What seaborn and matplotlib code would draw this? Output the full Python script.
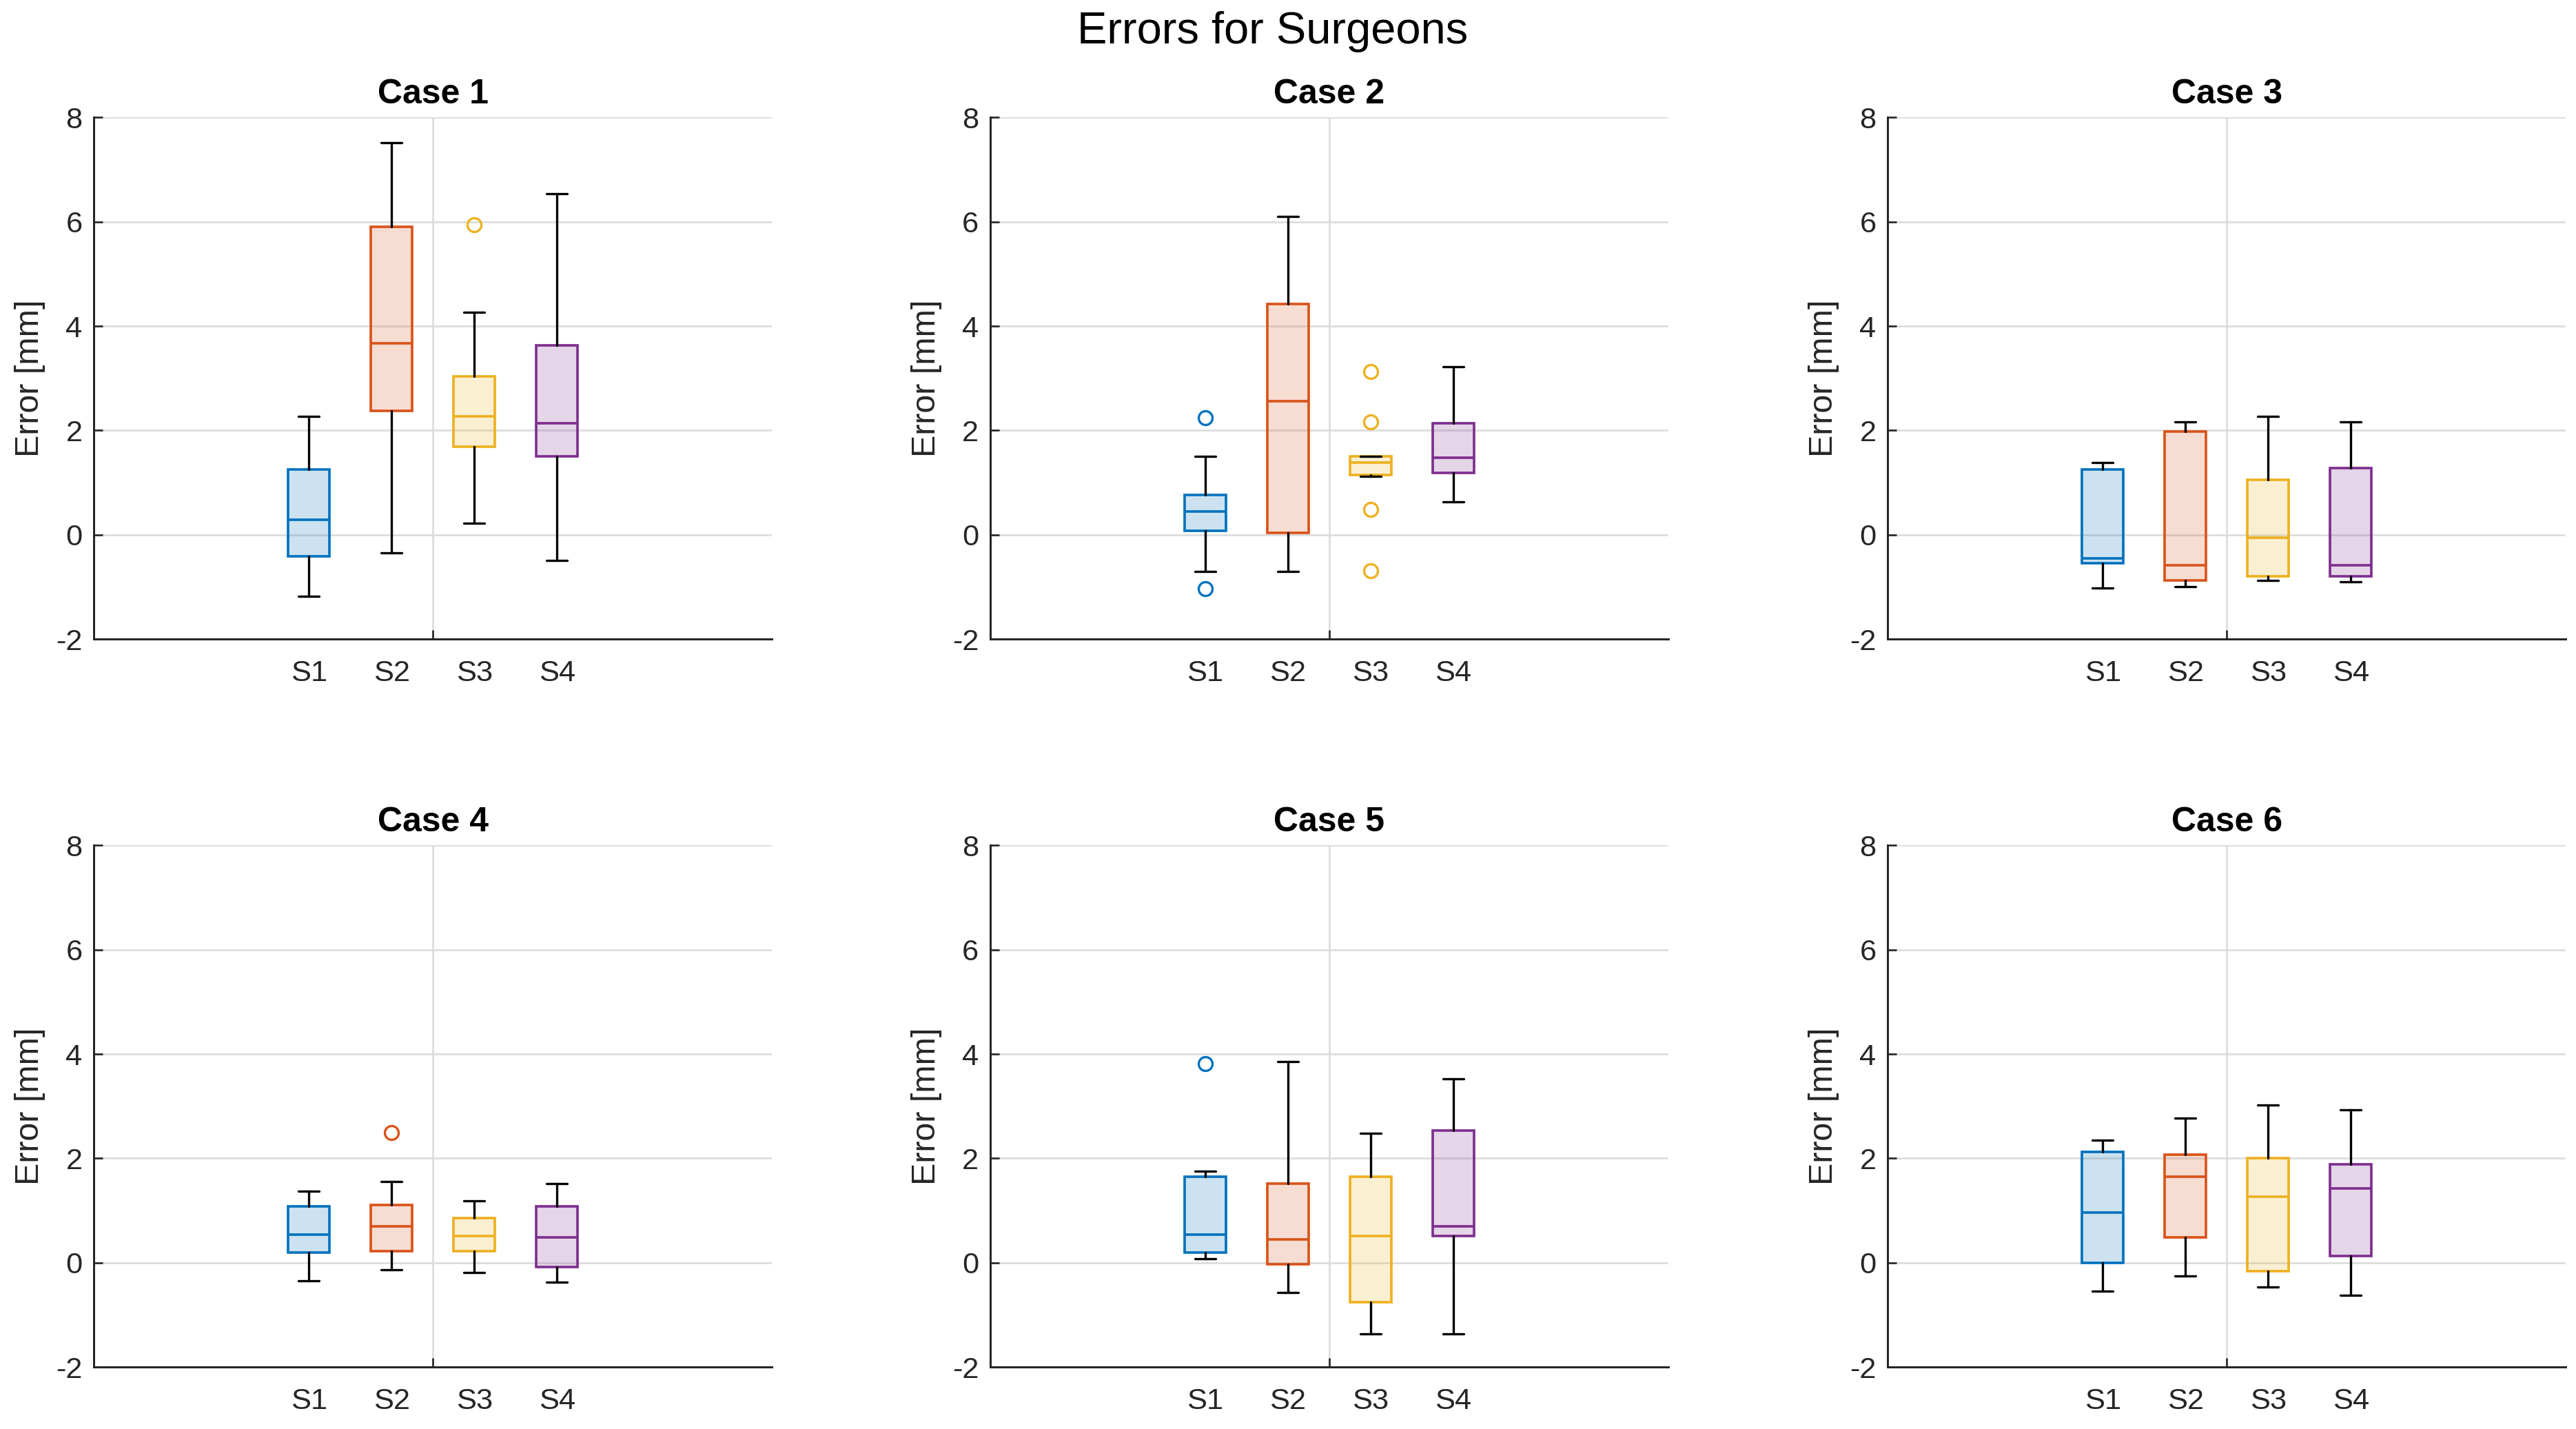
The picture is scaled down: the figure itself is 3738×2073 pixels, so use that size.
import numpy as np
import matplotlib
matplotlib.use("Agg")
import matplotlib.pyplot as plt
from matplotlib.ticker import FixedLocator
import seaborn as sns

# DATA (box statistics, per case -> S1..S4)
cases = ["Case 1", "Case 2", "Case 3", "Case 4", "Case 5", "Case 6"]
surgeons = ["S1", "S2", "S3", "S4"]

whisker_low = [
    [-1.18, -0.35, 0.22, -0.49],
    [-0.70, -0.71, 1.12, 0.63],
    [-1.02, -0.99, -0.87, -0.90],
    [-0.35, -0.13, -0.19, -0.38],
    [0.07, -0.57, -1.36, -1.36],
    [-0.54, -0.25, -0.47, -0.63],
]
q1 = [
    [-0.42, 2.37, 1.69, 1.50],
    [0.07, 0.03, 1.15, 1.18],
    [-0.54, -0.87, -0.80, -0.80],
    [0.20, 0.22, 0.22, -0.08],
    [0.20, -0.03, -0.76, 0.51],
    [0.00, 0.48, -0.16, 0.13],
]
median = [
    [0.29, 3.67, 2.27, 2.14],
    [0.45, 2.56, 1.38, 1.47],
    [-0.45, -0.58, -0.06, -0.58],
    [0.54, 0.70, 0.51, 0.48],
    [0.54, 0.45, 0.51, 0.70],
    [0.96, 1.65, 1.27, 1.43],
]
q3 = [
    [1.25, 5.90, 3.03, 3.63],
    [0.76, 4.43, 1.50, 2.14],
    [1.25, 1.98, 1.05, 1.28],
    [1.08, 1.11, 0.86, 1.08],
    [1.65, 1.52, 1.65, 2.54],
    [2.13, 2.07, 2.00, 1.88],
]
whisker_high = [
    [2.27, 7.51, 4.27, 6.54],
    [1.50, 6.10, 1.50, 3.22],
    [1.38, 2.17, 2.27, 2.17],
    [1.37, 1.55, 1.18, 1.52],
    [1.75, 3.85, 2.48, 3.53],
    [2.35, 2.77, 3.02, 2.93],
]
outliers = [
    [[], [], [5.95], []],
    [[2.24, -1.03], [], [3.13, 2.16, 0.49, -0.69], []],
    [[], [], [], []],
    [[], [2.49], [], []],
    [[3.82], [], [], []],
    [[], [], [], []],
]

colors = ["#0072BD", "#D95319", "#EDB120", "#7E2F8E"]
ink = "#262626"
gridc = "#dcdcdc"

sns.set_theme(style="white")
plt.rcParams["font.family"] = ["Liberation Sans", "DejaVu Sans"]
plt.rcParams["axes.unicode_minus"] = False

fig = plt.figure(figsize=(3738 / 240, 2073 / 240), dpi=240)
fig.patch.set_facecolor("white")

lefts = [0.0364, 0.3844, 0.7328]
bottoms = [0.5528, 0.0434]
width = 0.2633
height = 0.3650

for i, case in enumerate(cases):
    row, col = divmod(i, 3)
    ax = fig.add_axes([lefts[col], bottoms[row], width, height])

    stats = []
    for j, s in enumerate(surgeons):
        stats.append(dict(
            label=s,
            whislo=whisker_low[i][j],
            q1=q1[i][j],
            med=median[i][j],
            q3=q3[i][j],
            whishi=whisker_high[i][j],
            fliers=outliers[i][j],
        ))

    parts = ax.bxp(
        stats, positions=[1, 2, 3, 4], widths=0.5, capwidths=0.25,
        patch_artist=True, showfliers=True,
        whiskerprops=dict(color="black", lw=1.0),
        capprops=dict(color="black", lw=1.0),
    )
    for j, c in enumerate(colors):
        box = parts["boxes"][j]
        box.set_facecolor(matplotlib.colors.to_rgba(c, 0.2))
        box.set_edgecolor(c)
        box.set_linewidth(1.1)
        parts["medians"][j].set_color(c)
        parts["medians"][j].set_linewidth(1.1)
        fl = parts["fliers"][j]
        fl.set_marker("o")
        fl.set_markerfacecolor("none")
        fl.set_markeredgecolor(c)
        fl.set_markersize(6)
        fl.set_markeredgewidth(1.0)

    ax.set_xlim(-1.6, 6.6)
    ax.set_ylim(-2, 8)
    ax.set_yticks(np.arange(-2, 9, 2))
    ax.set_xticks([1, 2, 3, 4])
    ax.set_xticklabels(surgeons)
    ax.xaxis.set_minor_locator(FixedLocator([2.5]))

    ax.set_axisbelow(True)
    ax.grid(False)
    ax.yaxis.grid(True, color=gridc, lw=0.8)
    ax.xaxis.grid(True, which="minor", color=gridc, lw=0.8)

    ax.tick_params(axis="y", direction="in", length=4, width=0.8,
                   colors=ink, labelsize=13, pad=5, left=True)
    ax.tick_params(axis="x", which="major", length=0, labelsize=13,
                   labelcolor=ink, pad=9)
    ax.tick_params(axis="x", which="minor", direction="in", length=4,
                   width=0.8, color=ink, bottom=True)

    sns.despine(ax=ax)
    for sp in ["left", "bottom"]:
        ax.spines[sp].set_color(ink)
        ax.spines[sp].set_linewidth(0.9)

    ax.set_ylabel("Error [mm]", fontsize=14.5, color=ink, labelpad=4.5)
    ax.set_title(case, fontsize=15, fontweight="bold", color="black", pad=6)

fig.text(0.494, 0.978, "Errors for Surgeons", ha="center", va="center",
         fontsize=19.5, color="black")

plt.savefig("out.png", dpi=240, facecolor="white")
